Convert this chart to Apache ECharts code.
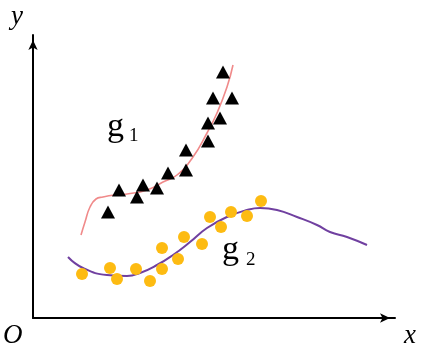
<!DOCTYPE html>
<html><head><meta charset="utf-8">
<script src="https://cdn.jsdelivr.net/npm/echarts@6/dist/echarts.min.js"></script>
<style>html,body{margin:0;padding:0;background:#fff}#c{width:425px;height:364px}</style>
</head><body><div id="c"></div>
<script>
// data coordinates: origin at O, units ~ pixels
const triangles = [[190,246],[180,220],[199,220],[187,200],[175,195],[175,177],[153,168],[153,148],[135,145],[124,130],[110,133],[104,121],[86,128],[75,106]];
const curve1 = [[48,83],[52,96],[57,111],[63,119],[70,121],[82,123],[94,124],[114,128],[130,136],[144,143],[160,161],[174,185],[184,205],[194,231],[200,253]];
const dots = [[49,44],[77,50],[84,39],[103,49],[117,37],[129,49],[129,70],[145,59],[151,81],[169,74],[177,101],[188,91],[198,106],[214,102],[228,117]];
const curve2 = [[35,61],[50,50],[74,43],[94,42],[107,45],[124,53],[140,63],[157,76],[174,90],[194,101],[214,108],[227,110],[244,108],[264,101],[284,93],[297,86],[314,81],[334,73]];

const chart = echarts.init(document.getElementById('c'));
const italic = {fontFamily:'Liberation Serif', fontStyle:'italic', fontSize:27, fill:'#000'};
chart.setOption({
  animation:false,
  grid:{left:33, top:35, right:30, bottom:46},
  xAxis:{type:'value', min:0, max:362, axisLine:{show:true, lineStyle:{color:'#000', width:2}, symbol:['none','arrow'], symbolSize:[7,10], symbolOffset:[0,-5]}, axisTick:{show:false}, axisLabel:{show:false}, splitLine:{show:false}},
  yAxis:{type:'value', min:0, max:283, axisLine:{show:true, lineStyle:{color:'#000', width:2}, symbol:['none','arrow'], symbolSize:[7,10], symbolOffset:[0,-5]}, axisTick:{show:false}, axisLabel:{show:false}, splitLine:{show:false}},
  graphic:[
    {type:'text', left:11, top:3, style:Object.assign({text:'y'}, italic)},
    {type:'text', left:3, top:322, style:Object.assign({text:'O'}, italic)},
    {type:'text', left:404, top:322, style:Object.assign({text:'x'}, italic)},
    {type:'text', left:107, top:110, style:{text:'g', fontFamily:'Liberation Serif', fontSize:34, fill:'#000'}},
    {type:'text', left:129, top:127, style:{text:'1', fontFamily:'Liberation Serif', fontSize:19, fill:'#000'}},
    {type:'text', left:222, top:233, style:{text:'g', fontFamily:'Liberation Serif', fontSize:34, fill:'#000'}},
    {type:'text', left:246, top:251, style:{text:'2', fontFamily:'Liberation Serif', fontSize:19, fill:'#000'}}
  ],
  series:[
    {type:'line', data:curve1, smooth:true, showSymbol:false, lineStyle:{color:'#f08a8a', width:1.6}, z:2},
    {type:'line', data:curve2, smooth:true, showSymbol:false, lineStyle:{color:'#7040a0', width:2}, z:2},
    {type:'scatter', data:triangles, symbol:'triangle', symbolSize:[14,13], itemStyle:{color:'#000', opacity:1}, z:3},
    {type:'scatter', data:dots, symbol:'circle', symbolSize:12, itemStyle:{color:'#fdbb12', opacity:1}, z:3}
  ]
});
</script></body></html>
